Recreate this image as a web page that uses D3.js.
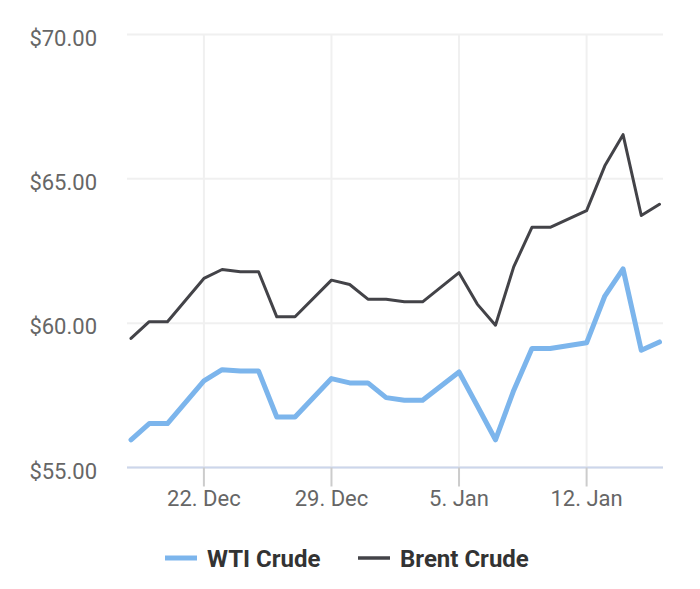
<!DOCTYPE html>
<html>
<head>
<meta charset="utf-8">
<script src="https://cdn.jsdelivr.net/npm/d3@7"></script>
<style>
  html, body { margin: 0; padding: 0; background: #ffffff; }
  svg { display: block; font-family: Roboto, "Noto Sans", sans-serif; }
</style>
</head>
<body>
<svg id="chart" width="700" height="589"></svg>
<script>
const dates = ["2019-12-18","2019-12-19","2019-12-20","2019-12-22","2019-12-23","2019-12-24","2019-12-25",
  "2019-12-26","2019-12-27","2019-12-29","2019-12-30","2019-12-31","2020-01-01","2020-01-02","2020-01-03",
  "2020-01-05","2020-01-06","2020-01-07","2020-01-08","2020-01-09","2020-01-10","2020-01-12","2020-01-13",
  "2020-01-14","2020-01-15","2020-01-16"];
const wti = [55.96,56.52,56.52,58.00,58.39,58.34,58.34,56.75,56.75,58.08,57.93,57.93,57.42,57.33,57.33,
  58.31,57.14,55.96,57.67,59.12,59.12,59.32,60.94,61.88,59.06,59.35];
const brent = [59.47,60.05,60.05,61.55,61.86,61.78,61.78,60.22,60.22,61.49,61.34,60.83,60.83,60.74,60.74,
  61.75,60.66,59.93,61.95,63.32,63.32,63.90,65.45,66.53,63.73,64.12];
const yTicks = [55, 60, 65, 70];
const xTicks = ["2019-12-22","2019-12-29","2020-01-05","2020-01-12"];
const seriesNames = ["WTI Crude", "Brent Crude"];
const seriesColors = ["#7cb5ec", "#434348"];

const parse = d3.utcParse("%Y-%m-%d");
const svg = d3.select("#chart");

const plotLeft = 127, plotRight = 663, plotTop = 34.5, plotBottom = 467.5;

const x = d3.scaleUtc()
  .domain([parse(dates[0]), parse(dates[dates.length - 1])])
  .range([131, 659.5]);
const y = d3.scaleLinear().domain([55, 70]).range([plotBottom, plotTop]);

// horizontal grid
svg.append("g").selectAll("line").data(yTicks).join("line")
  .attr("x1", plotLeft).attr("x2", plotRight)
  .attr("y1", d => y(d)).attr("y2", d => y(d))
  .attr("stroke", "#f0f0f0").attr("stroke-width", 2);

// vertical grid
svg.append("g").selectAll("line").data(xTicks).join("line")
  .attr("x1", d => x(parse(d))).attr("x2", d => x(parse(d)))
  .attr("y1", plotTop).attr("y2", plotBottom)
  .attr("stroke", "#f0f0f0").attr("stroke-width", 2);

// y labels
const fmt = d3.format("$.2f");
svg.append("g").selectAll("text").data(yTicks).join("text")
  .attr("x", 97).attr("y", d => y(d) + 11)
  .attr("text-anchor", "end")
  .attr("fill", "#666666").attr("font-size", 22)
  .text(d => fmt(d));

// x axis line
svg.append("line")
  .attr("x1", plotLeft).attr("x2", plotRight)
  .attr("y1", plotBottom).attr("y2", plotBottom)
  .attr("stroke", "#ccd6eb").attr("stroke-width", 2);

// x ticks and labels
const xFmt = d => { const dt = parse(d); return dt.getUTCDate() + ". " + d3.utcFormat("%b")(dt); };
const xg = svg.append("g");
xg.selectAll("line").data(xTicks).join("line")
  .attr("x1", d => x(parse(d))).attr("x2", d => x(parse(d)))
  .attr("y1", plotBottom).attr("y2", plotBottom + 19)
  .attr("stroke", "#cccccc").attr("stroke-width", 2);
xg.selectAll("text").data(xTicks).join("text")
  .attr("x", d => x(parse(d))).attr("y", 505.5)
  .attr("text-anchor", "middle")
  .attr("fill", "#666666").attr("font-size", 22)
  .text(xFmt);

// lines
const mk = vals => dates.map((d, i) => ({ date: parse(d), v: vals[i] }));
const line = d3.line().x(d => x(d.date)).y(d => y(d.v));
svg.append("path").datum(mk(wti))
  .attr("fill", "none").attr("stroke", seriesColors[0]).attr("stroke-width", 5)
  .attr("stroke-linejoin", "round").attr("stroke-linecap", "round")
  .attr("d", line);
svg.append("path").datum(mk(brent))
  .attr("fill", "none").attr("stroke", seriesColors[1]).attr("stroke-width", 3)
  .attr("stroke-linejoin", "round").attr("stroke-linecap", "round")
  .attr("d", line);

// legend
const legendX = [165, 358];
const legendW = [5, 3.5];
const lg = svg.append("g");
seriesNames.forEach((name, i) => {
  lg.append("line")
    .attr("x1", legendX[i]).attr("x2", legendX[i] + 32)
    .attr("y1", 558).attr("y2", 558)
    .attr("stroke", seriesColors[i]).attr("stroke-width", legendW[i]);
  lg.append("text")
    .attr("x", legendX[i] + 42).attr("y", 566.5)
    .attr("fill", "#333333").attr("font-size", 24).attr("font-weight", "bold")
    .text(name);
});
</script>
</body>
</html>
